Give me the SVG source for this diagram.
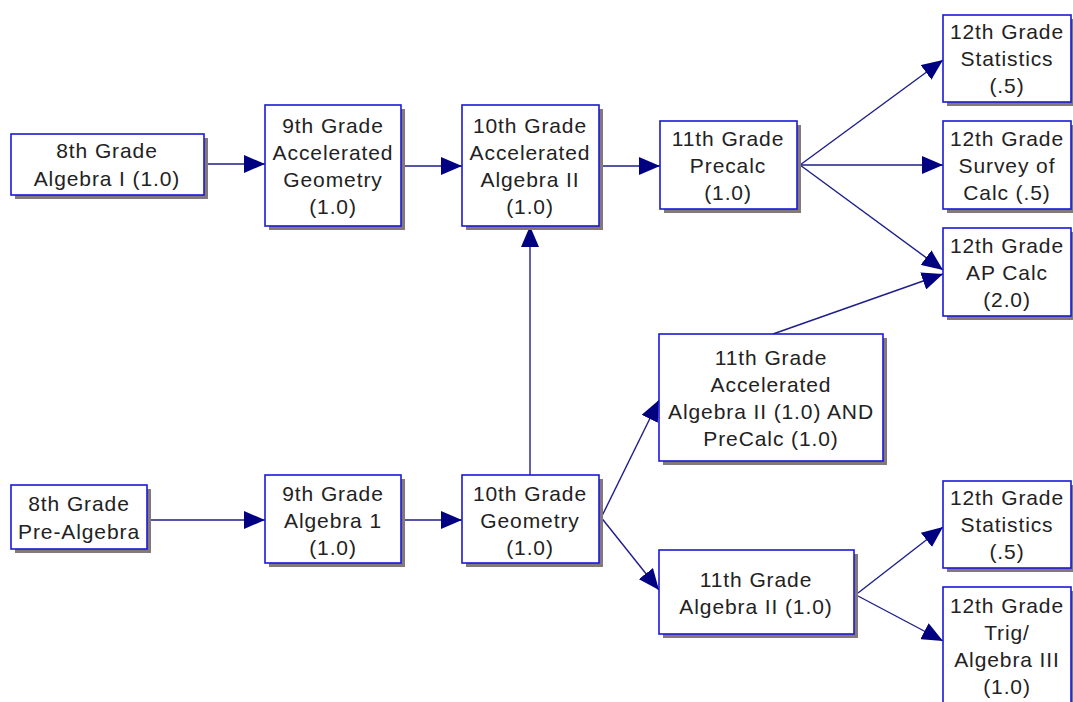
<svg xmlns="http://www.w3.org/2000/svg" width="1073" height="702" viewBox="0 0 1073 702">
<defs>
<marker id="ah" markerUnits="userSpaceOnUse" markerWidth="22" markerHeight="18" refX="21" refY="9" orient="auto">
<path d="M0,0 L21,9 L0,18 Z" fill="#000080"/>
</marker>
<style>
.shadow{fill:#847878}
.box{fill:#ffffff;stroke:#1a1ad8;stroke-width:1.6}
.t{font-family:"Liberation Sans",Arial,sans-serif;font-size:21px;letter-spacing:0.9px;fill:#222222;text-anchor:middle}
.c{stroke:#1e1e8a;stroke-width:1.4;fill:none;marker-end:url(#ah)}
</style>
</defs>
<rect width="1073" height="702" fill="#ffffff"/>
<g id="connectors">
<line class="c" x1="204" y1="164" x2="265" y2="164"/>
<line class="c" x1="401" y1="166" x2="462" y2="166"/>
<line class="c" x1="598" y1="166" x2="660" y2="166"/>
<line class="c" x1="800" y1="165" x2="943" y2="60"/>
<line class="c" x1="800" y1="165" x2="943" y2="165"/>
<line class="c" x1="800" y1="165" x2="943" y2="270"/>
<line class="c" x1="773" y1="334" x2="943" y2="274"/>
<line class="c" x1="147" y1="520" x2="265" y2="520"/>
<line class="c" x1="401" y1="520" x2="462" y2="520"/>
<line class="c" x1="530" y1="475" x2="530" y2="226"/>
<line class="c" x1="600" y1="520" x2="659" y2="400"/>
<line class="c" x1="600" y1="516" x2="659" y2="590"/>
<line class="c" x1="858" y1="593" x2="943" y2="527"/>
<line class="c" x1="858" y1="596" x2="943" y2="641"/>
</g>
<g id="n-alg1-8">
<rect class="shadow" x="15" y="138" width="193" height="61"/>
<rect class="box" x="11" y="134" width="193" height="61"/>
<text class="t" x="107" y="158">8th Grade</text>
<text class="t" x="107" y="186">Algebra I (1.0)</text>
</g>
<g id="n-accgeom-9">
<rect class="shadow" x="269" y="109" width="136" height="121"/>
<rect class="box" x="265" y="105" width="136" height="121"/>
<text class="t" x="333" y="133">9th Grade</text>
<text class="t" x="333" y="160">Accelerated</text>
<text class="t" x="333" y="187">Geometry</text>
<text class="t" x="333" y="214">(1.0)</text>
</g>
<g id="n-accalg2-10">
<rect class="shadow" x="466" y="109" width="137" height="121"/>
<rect class="box" x="462" y="105" width="137" height="121"/>
<text class="t" x="530" y="133">10th Grade</text>
<text class="t" x="530" y="160">Accelerated</text>
<text class="t" x="530" y="187">Algebra II</text>
<text class="t" x="530" y="214">(1.0)</text>
</g>
<g id="n-precalc-11">
<rect class="shadow" x="664" y="125" width="137" height="88"/>
<rect class="box" x="660" y="121" width="137" height="88"/>
<text class="t" x="728" y="146">11th Grade</text>
<text class="t" x="728" y="173">Precalc</text>
<text class="t" x="728" y="200">(1.0)</text>
</g>
<g id="n-stats-12a">
<rect class="shadow" x="947" y="19" width="130" height="87"/>
<rect class="box" x="943" y="15" width="128" height="87"/>
<text class="t" x="1007" y="39">12th Grade</text>
<text class="t" x="1007" y="66">Statistics</text>
<text class="t" x="1007" y="93">(.5)</text>
</g>
<g id="n-survey-12">
<rect class="shadow" x="947" y="125" width="130" height="88"/>
<rect class="box" x="943" y="121" width="128" height="88"/>
<text class="t" x="1007" y="146">12th Grade</text>
<text class="t" x="1007" y="173">Survey of</text>
<text class="t" x="1007" y="200">Calc (.5)</text>
</g>
<g id="n-apcalc-12">
<rect class="shadow" x="947" y="232" width="130" height="88"/>
<rect class="box" x="943" y="228" width="128" height="88"/>
<text class="t" x="1007" y="253">12th Grade</text>
<text class="t" x="1007" y="280">AP Calc</text>
<text class="t" x="1007" y="307">(2.0)</text>
</g>
<g id="n-accalg2precalc-11">
<rect class="shadow" x="663" y="338" width="224" height="127"/>
<rect class="box" x="659" y="334" width="224" height="127"/>
<text class="t" x="771" y="365">11th Grade</text>
<text class="t" x="771" y="392">Accelerated</text>
<text class="t" x="771" y="419">Algebra II (1.0) AND</text>
<text class="t" x="771" y="446">PreCalc (1.0)</text>
</g>
<g id="n-prealg-8">
<rect class="shadow" x="15" y="489" width="136" height="64"/>
<rect class="box" x="11" y="485" width="136" height="64"/>
<text class="t" x="79" y="511">8th Grade</text>
<text class="t" x="79" y="539">Pre-Algebra</text>
</g>
<g id="n-alg1-9">
<rect class="shadow" x="269" y="479" width="136" height="88"/>
<rect class="box" x="265" y="475" width="136" height="88"/>
<text class="t" x="333" y="501">9th Grade</text>
<text class="t" x="333" y="528">Algebra 1</text>
<text class="t" x="333" y="555">(1.0)</text>
</g>
<g id="n-geom-10">
<rect class="shadow" x="466" y="479" width="137" height="88"/>
<rect class="box" x="462" y="475" width="137" height="88"/>
<text class="t" x="530" y="501">10th Grade</text>
<text class="t" x="530" y="528">Geometry</text>
<text class="t" x="530" y="555">(1.0)</text>
</g>
<g id="n-alg2-11">
<rect class="shadow" x="663" y="554" width="195" height="84"/>
<rect class="box" x="659" y="550" width="195" height="84"/>
<text class="t" x="756" y="587">11th Grade</text>
<text class="t" x="756" y="614">Algebra II (1.0)</text>
</g>
<g id="n-stats-12b">
<rect class="shadow" x="947" y="485" width="130" height="87"/>
<rect class="box" x="943" y="481" width="128" height="87"/>
<text class="t" x="1007" y="505">12th Grade</text>
<text class="t" x="1007" y="532">Statistics</text>
<text class="t" x="1007" y="559">(.5)</text>
</g>
<g id="n-trig-12">
<rect class="shadow" x="947" y="591" width="130" height="130"/>
<rect class="box" x="943" y="587" width="128" height="130"/>
<text class="t" x="1007" y="613">12th Grade</text>
<text class="t" x="1007" y="640">Trig/</text>
<text class="t" x="1007" y="667">Algebra III</text>
<text class="t" x="1007" y="694">(1.0)</text>
</g>
</svg>
